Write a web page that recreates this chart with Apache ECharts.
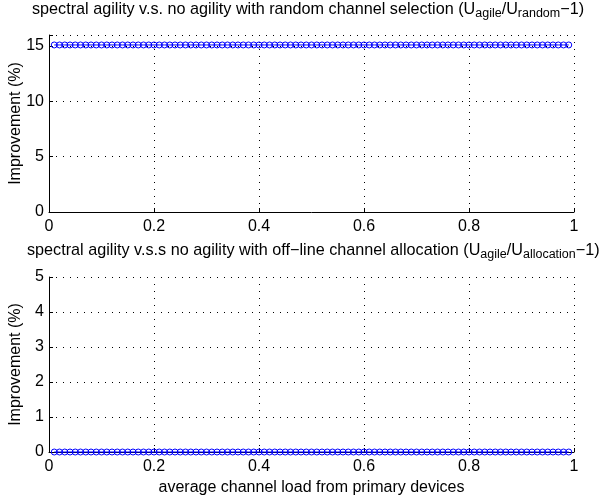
<!DOCTYPE html>
<html>
<head>
<meta charset="utf-8">
<script src="https://cdn.jsdelivr.net/npm/echarts@6/dist/echarts.min.js"></script>
<style>
  body { margin: 0; background: #fff; }
  #main { width: 604px; height: 500px; }
</style>
</head>
<body>
<div id="main"></div>
<script>
// channel load (x) and improvement values
var load = [
  0.01, 0.02, 0.03, 0.04, 0.05, 0.06, 0.07, 0.08, 0.09, 0.10,
  0.11, 0.12, 0.13, 0.14, 0.15, 0.16, 0.17, 0.18, 0.19, 0.20,
  0.21, 0.22, 0.23, 0.24, 0.25, 0.26, 0.27, 0.28, 0.29, 0.30,
  0.31, 0.32, 0.33, 0.34, 0.35, 0.36, 0.37, 0.38, 0.39, 0.40,
  0.41, 0.42, 0.43, 0.44, 0.45, 0.46, 0.47, 0.48, 0.49, 0.50,
  0.51, 0.52, 0.53, 0.54, 0.55, 0.56, 0.57, 0.58, 0.59, 0.60,
  0.61, 0.62, 0.63, 0.64, 0.65, 0.66, 0.67, 0.68, 0.69, 0.70,
  0.71, 0.72, 0.73, 0.74, 0.75, 0.76, 0.77, 0.78, 0.79, 0.80,
  0.81, 0.82, 0.83, 0.84, 0.85, 0.86, 0.87, 0.88, 0.89, 0.90,
  0.91, 0.92, 0.93, 0.94, 0.95, 0.96, 0.97, 0.98, 0.99
]
var vsRandom = [
  15.1, 15.1, 15.1, 15.1, 15.1, 15.1, 15.1, 15.1, 15.1, 15.1,
  15.1, 15.1, 15.1, 15.1, 15.1, 15.1, 15.1, 15.1, 15.1, 15.1,
  15.1, 15.1, 15.1, 15.1, 15.1, 15.1, 15.1, 15.1, 15.1, 15.1,
  15.1, 15.1, 15.1, 15.1, 15.1, 15.1, 15.1, 15.1, 15.1, 15.1,
  15.1, 15.1, 15.1, 15.1, 15.1, 15.1, 15.1, 15.1, 15.1, 15.1,
  15.1, 15.1, 15.1, 15.1, 15.1, 15.1, 15.1, 15.1, 15.1, 15.1,
  15.1, 15.1, 15.1, 15.1, 15.1, 15.1, 15.1, 15.1, 15.1, 15.1,
  15.1, 15.1, 15.1, 15.1, 15.1, 15.1, 15.1, 15.1, 15.1, 15.1,
  15.1, 15.1, 15.1, 15.1, 15.1, 15.1, 15.1, 15.1, 15.1, 15.1,
  15.1, 15.1, 15.1, 15.1, 15.1, 15.1, 15.1, 15.1, 15.1
]
var vsAllocation = [
  0, 0, 0, 0, 0, 0, 0, 0, 0, 0,
  0, 0, 0, 0, 0, 0, 0, 0, 0, 0,
  0, 0, 0, 0, 0, 0, 0, 0, 0, 0,
  0, 0, 0, 0, 0, 0, 0, 0, 0, 0,
  0, 0, 0, 0, 0, 0, 0, 0, 0, 0,
  0, 0, 0, 0, 0, 0, 0, 0, 0, 0,
  0, 0, 0, 0, 0, 0, 0, 0, 0, 0,
  0, 0, 0, 0, 0, 0, 0, 0, 0, 0,
  0, 0, 0, 0, 0, 0, 0, 0, 0, 0,
  0, 0, 0, 0, 0, 0, 0, 0, 0
]
var xTicks = [0, 0.2, 0.4, 0.6, 0.8, 1]

var font = 'Liberation Sans, Arial, Helvetica, sans-serif'
var blue = '#0000ff'

function pairs (xs, ys) {
  return xs.map(function (x, i) { return [x, ys[i]] })
}

function titleText (text, x, y) {
  return {
    type: 'text',
    x: x,
    y: y,
    silent: true,
    style: {
      text: text,
      align: 'left',
      verticalAlign: 'middle',
      fill: '#000',
      rich: {
        a: { fontFamily: font, fontSize: 16.2, lineHeight: 20, fill: '#000', color: '#000' },
        s: { fontFamily: font, fontSize: 12.5, lineHeight: 9, fill: '#000', color: '#000', verticalAlign: 'bottom' }
      }
    }
  }
}

function xAxis (idx, showName) {
  return {
    type: 'value',
    gridIndex: idx,
    min: 0,
    max: 1,
    interval: 0.2,
    name: showName ? 'average channel load from primary devices' : '',
    nameLocation: 'middle',
    nameGap: 28,
    nameMoveOverlap: false,
    nameTextStyle: { fontFamily: font, fontSize: 16, color: '#000' },
    axisLine: { show: true, onZero: false, lineStyle: { color: '#000', width: 1 } },
    axisTick: { show: true, inside: true, length: 4, lineStyle: { color: '#000' } },
    axisLabel: {
      fontFamily: font, fontSize: 16, color: '#000', margin: 7,
      formatter: function (v) { return xTicks.indexOf(+v.toFixed(1)) >= 0 ? String(+v.toFixed(1)) : '' }
    },
    splitLine: { show: true, lineStyle: { color: '#000', type: [1, 6], width: 1 } }
  }
}

function yAxis (idx, max, step) {
  return {
    type: 'value',
    gridIndex: idx,
    min: 0,
    max: max,
    interval: step,
    name: 'Improvement (%)',
    nameLocation: 'middle',
    nameGap: 25,
    nameMoveOverlap: false,
    nameTextStyle: { fontFamily: font, fontSize: 16, color: '#000' },
    axisLine: { show: true, lineStyle: { color: '#000', width: 1 } },
    axisTick: { show: true, inside: true, length: 4, lineStyle: { color: '#000' } },
    axisLabel: {
      fontFamily: font, fontSize: 16, color: '#000', margin: 5,
      formatter: function (v) { return v % step === 0 ? String(v) : '' }
    },
    splitLine: { show: true, lineStyle: { color: '#000', type: [1, 6], width: 1 } }
  }
}

function series (idx, ys) {
  return {
    type: 'line',
    xAxisIndex: idx,
    yAxisIndex: idx,
    data: pairs(load, ys),
    symbol: 'circle',
    symbolSize: 6,
    showAllSymbol: true,
    clip: false,
    lineStyle: { color: blue, width: 1 },
    itemStyle: { color: 'transparent', borderColor: blue, borderWidth: 1 },
    emphasis: { disabled: true },
    animation: false
  }
}

var chart = echarts.init(document.getElementById('main'))
chart.setOption({
  backgroundColor: '#fff',
  animation: false,
  graphic: [
    titleText('{a|spectral agility v.s. no agility with random channel selection (U}{s|agile}{a|/U}{s|random}{a|−1)}', 32, 10),
    titleText('{a|spectral agility v.s.s no agility with off−line channel allocation (U}{s|agile}{a|/U}{s|allocation}{a|−1)}', 27, 251)
  ],
  grid: [
    { left: 49, right: 30, top: 35, height: 177, outerBoundsMode: 'none', containLabel: false },
    { left: 49, right: 30, top: 277, height: 175, outerBoundsMode: 'none', containLabel: false }
  ],
  xAxis: [xAxis(0, false), xAxis(1, true)],
  yAxis: [yAxis(0, 16, 5), yAxis(1, 5, 1)],
  series: [series(0, vsRandom), series(1, vsAllocation)]
})
</script>
</body>
</html>
